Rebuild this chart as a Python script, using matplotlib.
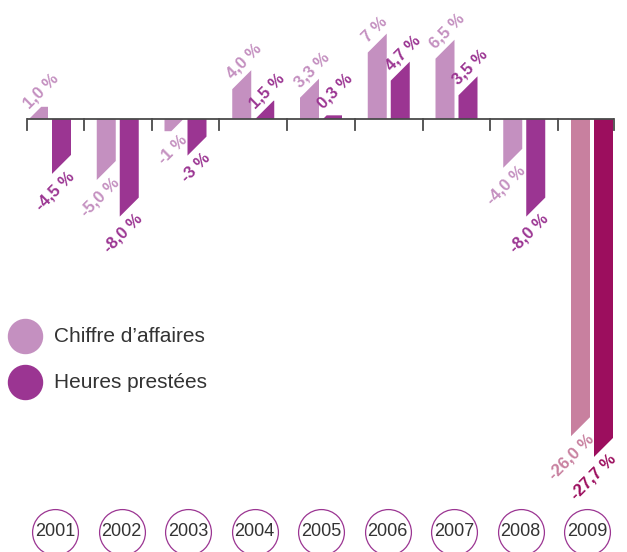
import matplotlib
matplotlib.use("Agg")
import matplotlib.pyplot as plt
from matplotlib.patches import Polygon

plt.rcParams["font.family"] = ["Liberation Sans", "DejaVu Sans"]

years = ["2001", "2002", "2003", "2004", "2005", "2006", "2007", "2008", "2009"]
chiffre = [1.0, -5.0, -1.0, 4.0, 3.3, 7.0, 6.5, -4.0, -26.0]
heures = [-4.5, -8.0, -3.0, 1.5, 0.3, 4.7, 3.5, -8.0, -27.7]
chiffre_lbl = ["1,0 %", "-5,0 %", "-1 %", "4,0 %", "3,3 %", "7 %", "6,5 %", "-4,0 %", "-26,0 %"]
heures_lbl = ["-4,5 %", "-8,0 %", "-3 %", "1,5 %", "0,3 %", "4,7 %", "3,5 %", "-8,0 %", "-27,7 %"]
legend_names = ["Chiffre d\u2019affaires", "Heures prest\u00e9es"]

light = "#c490c0"
dark = "#9b3592"
light_09 = "#c8809f"
dark_09 = "#9c0e5e"

# pixel layout of the picture
W, H = 627, 552
step = 67.75        # px between groups
x_first = 50        # px centre of first group
y_axis = 119        # px of zero line
ppu = 12.2          # px per percent
bar_px = 19
gap_px = 4

fig = plt.figure(figsize=(W / 100, H / 100), dpi=100)
ax = fig.add_axes([0, 0, 1, 1])
ax.set_xlim(-x_first / step, (W - x_first) / step)
ax.set_ylim(-(H - y_axis) / ppu, y_axis / ppu)
ax.axis("off")

bw = bar_px / step
off = (bar_px + gap_px) / 2 / step


def draw_bar(xc, v, color, label):
    x0, x1 = xc - bw / 2, xc + bw / 2
    c = min(bar_px, abs(v) * ppu)
    cx, cy = c / step, c / ppu
    if v >= 0:
        pts = [(x0, 0), (x0, v - cy), (x0 + cx, v), (x1, v), (x1, 0)]
        anchor, offs, ha = (x0, v - cy), (-3, 13), "left"
    else:
        pts = [(x0, 0), (x0, v), (x1 - cx, v), (x1, v + cy), (x1, 0)]
        anchor, offs, ha = (x1, v + cy), (1, -19), "right"
    ax.add_patch(Polygon(pts, closed=True, facecolor=color, edgecolor="none", zorder=2))
    ax.annotate(label, anchor, xytext=offs, textcoords="offset pixels",
                ha=ha, va="center", rotation=45, rotation_mode="anchor",
                fontsize=12, fontweight="bold", color=color, zorder=4)


for i in range(len(years)):
    c1 = light_09 if i == len(years) - 1 else light
    c2 = dark_09 if i == len(years) - 1 else dark
    draw_bar(i - off, chiffre[i], c1, chiffre_lbl[i])
    draw_bar(i + off, heures[i], c2, heures_lbl[i])

# zero line with ticks
x_start = (27 - x_first) / step
x_end = (614 - x_first) / step
ax.plot([x_start, x_end], [0, 0], color="#4a4a4a", lw=1.3, zorder=3, solid_capstyle="butt")
tick_len = 11 / ppu
ticks = [x_start] + [i + 0.5 for i in range(len(years) - 1)] + [x_end]
for t in ticks:
    ax.plot([t, t], [0, -tick_len], color="#4a4a4a", lw=1.3, zorder=3)

# years in circles
for i, y in enumerate(years):
    xc = (55 + 66.5 * i - x_first) / step
    yc = -(532 - y_axis) / ppu
    ax.scatter([xc], [yc], s=33 ** 2, facecolor="white", edgecolor=dark, linewidth=0.9, zorder=3)
    ax.text(xc, yc, y, ha="center", va="center", fontsize=13, color="#333333", zorder=4)

# legend
for k, (name, col) in enumerate(zip(legend_names, [light, dark])):
    py = 336 + 46 * k
    ax.scatter([25 / W], [1 - py / H], s=24.5 ** 2, color=col, transform=ax.transAxes, zorder=3)
    ax.text(54 / W, 1 - py / H, name, transform=ax.transAxes, ha="left", va="center",
            fontsize=15, color="#333333")

fig.savefig("out.png", dpi=100)
